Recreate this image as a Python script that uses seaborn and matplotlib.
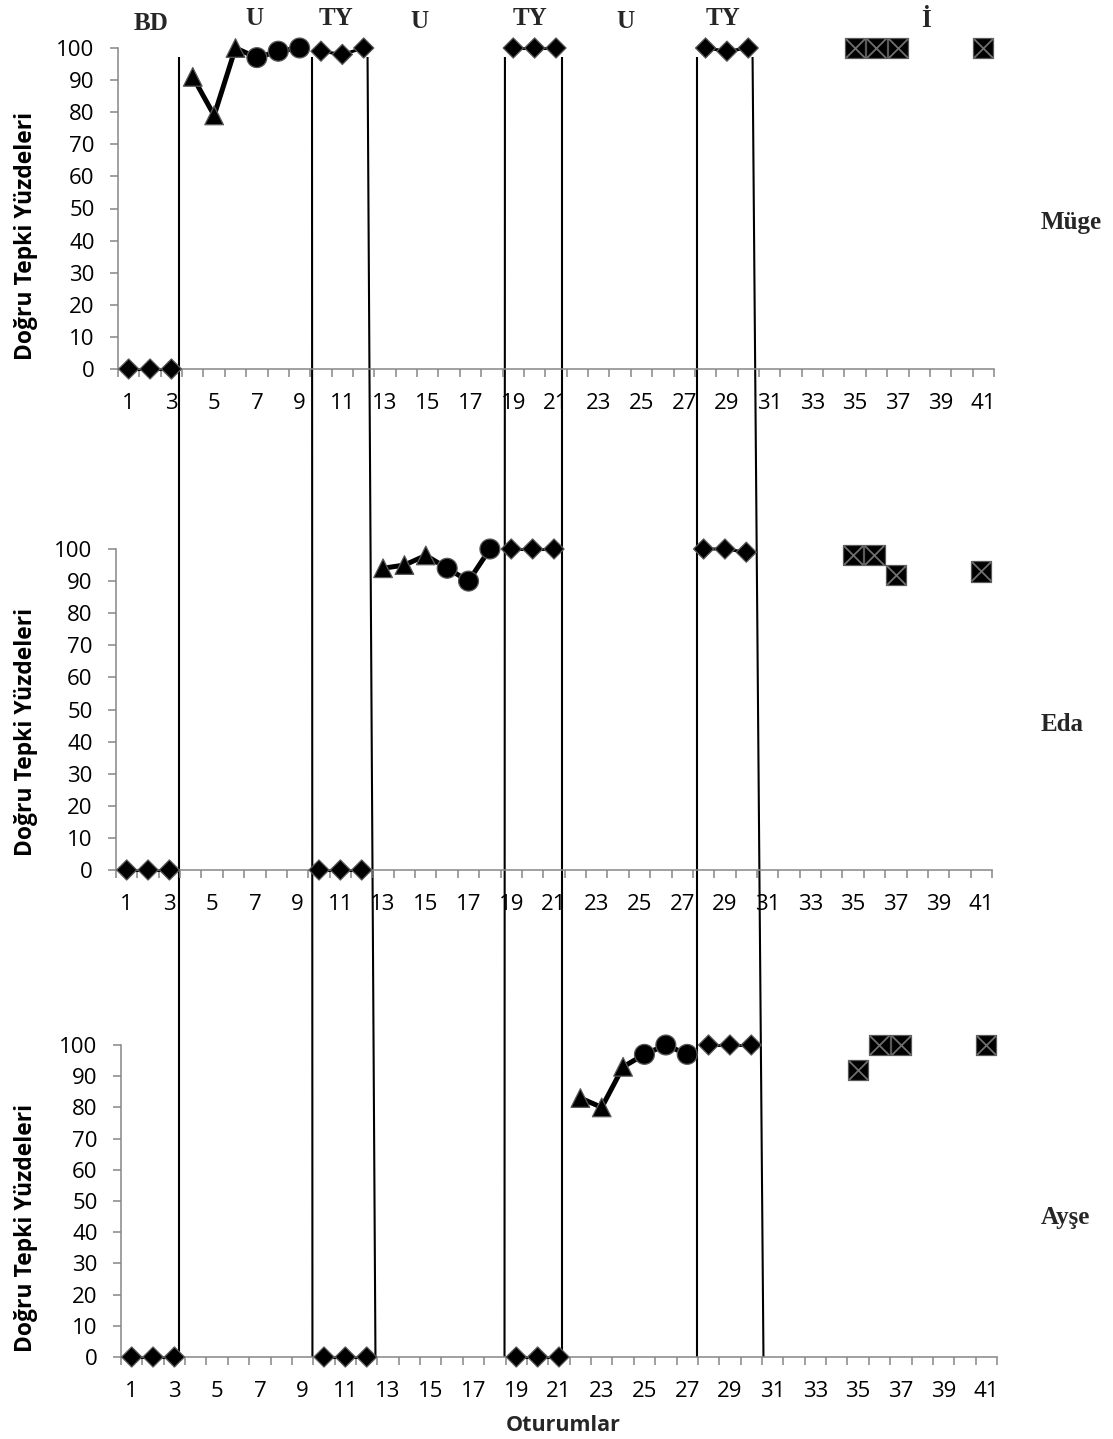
import numpy as np
import pandas as pd
import matplotlib
matplotlib.use("Agg")
import matplotlib.pyplot as plt
import seaborn as sns

nan = np.nan

# ---------------- data ----------------
sessions = list(range(1, 42))
# marker per session: D = baseline / probe (BD, TY), ^ and o = teaching (U), s = generalisation (İ)
session_marker = (['D'] * 3 + ['^'] * 3 + ['o'] * 3 + ['D'] * 3 + ['^'] * 3 + ['o'] * 3 +
                  ['D'] * 3 + ['^'] * 3 + ['o'] * 3 + ['D'] * 3 + ['s'] * 11)
# connected blocks (0 = not connected)
session_block = [1] * 3 + [2] * 6 + [3] * 3 + [4] * 6 + [5] * 3 + [6] * 6 + [7] * 3 + [0] * 11

muge = [0, 0, 0, 91, 79, 100, 97, 99, 100, 99, 98, 100,
        nan, nan, nan, nan, nan, nan, 100, 100, 100,
        nan, nan, nan, nan, nan, nan, 100, 99, 100,
        nan, nan, nan, nan, 100, 100, 100, nan, nan, nan, 100]
eda = [0, 0, 0, nan, nan, nan, nan, nan, nan, 0, 0, 0,
       94, 95, 98, 94, 90, 100, 100, 100, 100,
       nan, nan, nan, nan, nan, nan, 100, 100, 99,
       nan, nan, nan, nan, 98, 98, 92, nan, nan, nan, 93]
ayse = [0, 0, 0, nan, nan, nan, nan, nan, nan, 0, 0, 0,
        nan, nan, nan, nan, nan, nan, 0, 0, 0,
        83, 80, 93, 97, 100, 97, 100, 100, 100,
        nan, nan, nan, nan, 92, 100, 100, nan, nan, nan, 100]

students = ['Müge', 'Eda', 'Ayşe']
student_values = [muge, eda, ayse]
phase_labels = ['BD', 'U', 'TY', 'U', 'TY', 'U', 'TY', 'İ']
y_ticks = list(range(0, 101, 10))
x_tick_labels = list(range(1, 42, 2))

# phase change lines (session units, top and bottom end)
phase_line_top = [3.36, 9.58, 12.18, 18.61, 21.30, 27.60, 30.20]
phase_line_bottom = [3.36, 9.60, 12.55, 18.59, 21.30, 27.60, 30.71]

# ---------------- layout ----------------
W, H = 1113, 1439
sns.set_theme(style="white")
plt.rcParams['font.family'] = ['Open Sans', 'DejaVu Sans']
SERIF = ['Liberation Serif', 'DejaVu Serif']
GRAY = '#868686'

fig = plt.figure(figsize=(W / 100, H / 100), dpi=100)

# overlay for phase lines and phase labels (x in session units, y in pixels)
ov = fig.add_axes([118 / W, 0, 876 / W, 1], zorder=0)
ov.set_xlim(0.5, 41.5)
ov.set_ylim(H, 0)
ov.axis('off')
for xt, xb in zip(phase_line_top, phase_line_bottom):
    ov.plot([xt, xb], [57, 1357], color='black', lw=1.5, solid_capstyle='butt')

label_x = [2.04, 6.87, 10.70, 14.63, 19.78, 24.23, 28.82, 38.32]
label_base = [30, 25, 25, 28, 25, 28, 25, 27]
for lab, lx, ly in zip(phase_labels, label_x, label_base):
    ov.text(lx, ly, lab, ha='center', va='baseline', fontsize=18, fontweight='bold',
            family=SERIF)

panel_rects = [(118, 48, 369), (116, 549, 870), (121, 1045, 1357)]
name_base = [229, 731, 1224]
ylabel_y = [0.414, 0.43, 0.413]

for i, (name, vals) in enumerate(zip(students, student_values)):
    left, top, bottom = panel_rects[i]
    ax = fig.add_axes([left / W, 1 - bottom / H, 876 / W, (bottom - top) / H], zorder=1)
    ax.patch.set_alpha(0)
    df = pd.DataFrame({'session': sessions, 'value': vals,
                       'marker': session_marker, 'block': session_block})
    d = df.dropna()

    for b in sorted(set(session_block)):
        if b == 0:
            continue
        sub = d[d.block == b]
        if len(sub) < 2:
            continue
        lw = 2.2 if sub.marker.iloc[0] == 'D' else 3.6
        sns.lineplot(data=sub, x='session', y='value', color='black', lw=lw,
                     estimator=None, sort=False, ax=ax, clip_on=False, zorder=2)

    sns.scatterplot(data=d, x='session', y='value', style='marker', size='marker',
                    markers={'D': 'D', '^': '^', 'o': 'o', 's': 's'},
                    sizes={'D': 105, '^': 180, 'o': 205, 's': 210},
                    color='black', edgecolor='#595959', linewidth=0.9,
                    legend=False, ax=ax, clip_on=False, zorder=3)
    sq = d[d.marker == 's']
    sns.scatterplot(data=sq, x='session', y='value', marker='x', s=200,
                    color='#6e6e6e', linewidth=1.3, legend=False, ax=ax,
                    clip_on=False, zorder=4)

    ax.set_xlim(0.5, 41.5)
    ax.set_ylim(0, 100)
    ax.set_yticks(y_ticks)
    ax.set_xticks(x_tick_labels)
    ax.set_xticks(np.arange(0.5, 42, 1), minor=True)
    ax.tick_params(axis='x', which='major', length=0, pad=17, labelsize=16, labelcolor='black')
    ax.tick_params(axis='x', which='minor', length=5.8, width=1.1, color=GRAY, bottom=True)
    ax.tick_params(axis='y', which='major', length=5.8, width=1.1, color=GRAY, left=True,
                   pad=11, labelsize=16, labelcolor='black')
    for s in ['top', 'right']:
        ax.spines[s].set_visible(False)
    for s in ['left', 'bottom']:
        ax.spines[s].set_color(GRAY)
        ax.spines[s].set_linewidth(1.1)
    ax.set_xlabel('')
    ax.set_ylabel('Doğru Tepki Yüzdeleri', fontsize=16.5, fontweight='bold', color='black')
    ax.yaxis.set_label_coords((38 - left) / 876, ylabel_y[i])
    ax.grid(False)

    fig.text(1041 / W, 1 - name_base[i] / H, name, ha='left', va='baseline',
             fontsize=18, fontweight='bold', family=SERIF)

fig.text(563 / W, 1 - 1431 / H, 'Oturumlar', ha='center', va='baseline',
         fontsize=15.5, fontweight='bold')

fig.savefig('out.png', dpi=100)
